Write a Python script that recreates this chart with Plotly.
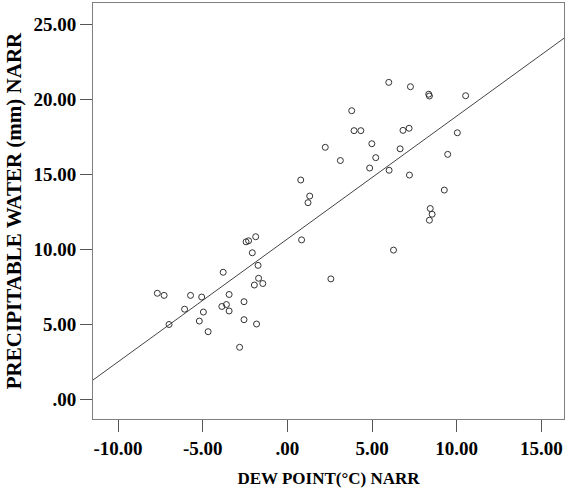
import plotly.graph_objects as go
import numpy as np

dew_point = [-7.68, -7.28, -6.99, -6.07, -5.72, -5.06, -5.20, -4.96, -4.68, -3.79,
             -3.87, -3.60, -3.44, -3.44, -2.82, -2.56, -2.56, -2.44, -2.29, -1.87,
             -2.07, -1.95, -1.73, -1.70, -1.45, -1.82, 0.84, 2.57, 0.79, 1.32,
             1.22, 2.24, 3.13, 3.80, 3.94, 4.34, 4.99, 4.86, 5.22, 5.99,
             6.01, 6.27, 6.66, 6.83, 7.19, 7.21, 7.27, 8.35, 8.39, 8.44,
             8.55, 8.39, 9.27, 9.47, 10.04, 10.53]
precip_water = [7.05, 6.91, 4.97, 5.99, 6.91, 6.80, 5.20, 5.80, 4.49, 8.45,
                6.17, 6.30, 5.87, 6.97, 3.45, 5.29, 6.49, 10.48, 10.55, 10.82,
                9.75, 7.60, 8.91, 8.05, 7.70, 5.00, 10.61, 8.01, 14.60, 13.53,
                13.09, 16.78, 15.90, 19.22, 17.89, 17.89, 17.02, 15.40, 16.09, 21.11,
                15.25, 9.93, 16.68, 17.91, 18.05, 14.93, 20.82, 20.32, 20.20, 12.70,
                12.32, 11.92, 13.93, 16.31, 17.75, 20.22]

fit_intercept = 10.67
fit_slope = 0.819

x_tickvals = [-10, -5, 0, 5, 10, 15]
x_ticktext = ["-10.00", "-5.00", ".00", "5.00", "10.00", "15.00"]
y_tickvals = [0, 5, 10, 15, 20, 25]
y_ticktext = [".00", "5.00", "10.00", "15.00", "20.00", "25.00"]

x_range = [-11.48, 16.34]
y_range = [-1.33, 26.4]

line_x = np.array(x_range)
line_y = fit_intercept + fit_slope * line_x

fig = go.Figure()
fig.add_trace(go.Scatter(x=line_x, y=line_y, mode="lines",
                         line=dict(color="#444444", width=1), hoverinfo="skip"))
fig.add_trace(go.Scatter(x=dew_point, y=precip_water, mode="markers",
                         marker=dict(symbol="circle-open", size=6,
                                     line=dict(color="#333333", width=1),
                                     color="#333333")))

tickfont = dict(family="Liberation Serif", size=19, color="#000000", weight="bold")
axis_common = dict(showgrid=False, zeroline=False, showline=True, mirror=True,
                   linecolor="#7f7f7f", linewidth=1, ticks="outside", ticklen=12,
                   tickcolor="#555555", tickwidth=1, tickfont=tickfont)

fig.update_layout(
    width=571, height=494,
    margin=dict(l=93, r=7, t=3, b=75),
    paper_bgcolor="white", plot_bgcolor="white",
    showlegend=False,
    xaxis=dict(range=x_range, tickvals=x_tickvals, ticktext=x_ticktext,
               title=dict(text="DEW POINT(°C) NARR", standoff=14,
                          font=dict(family="Liberation Serif", size=17, color="#000000", weight="bold")),
               **axis_common),
    yaxis=dict(range=y_range, tickvals=y_tickvals, ticktext=y_ticktext,
               title=dict(text="PRECIPITABLE WATER (mm) NARR", standoff=6,
                          font=dict(family="Liberation Serif", size=21, color="#000000", weight="bold")),
               **axis_common),
)

fig.write_html("out.html")
